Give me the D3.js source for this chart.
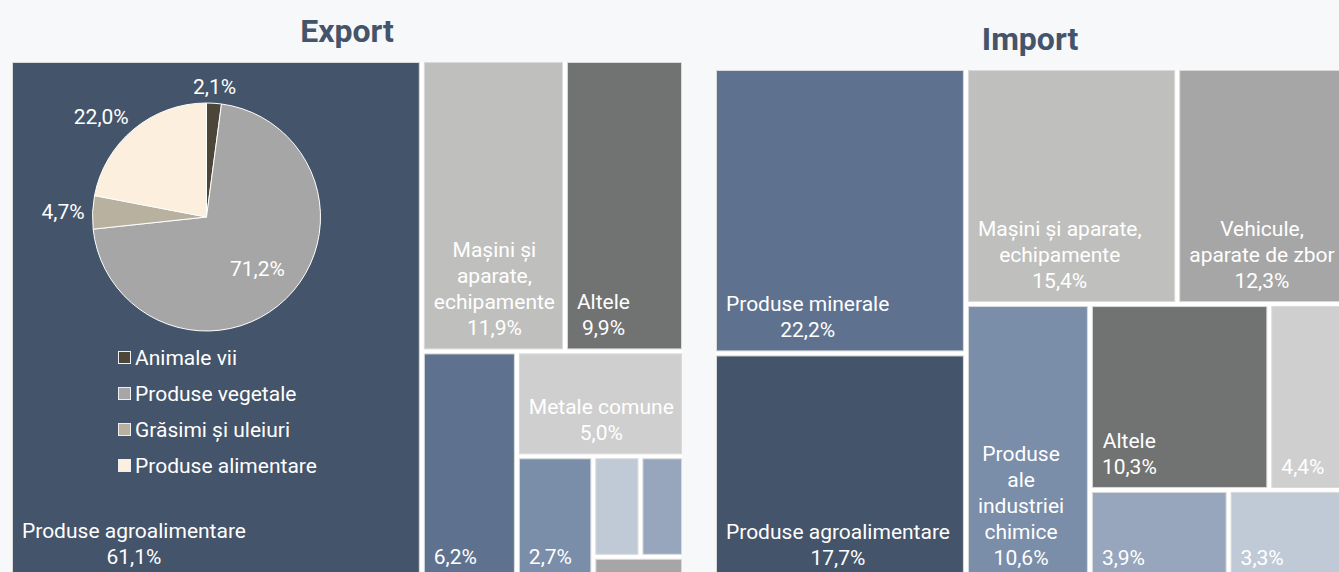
<!DOCTYPE html>
<html><head><meta charset="utf-8">
<script src="https://cdn.jsdelivr.net/npm/d3@7"></script>
<style>
html,body{margin:0;padding:0;background:#f7f8fa;overflow:hidden;}
svg{display:block;font-family:Roboto,"Noto Sans",sans-serif;}
</style></head><body>
<svg id="c" width="1339" height="572"></svg>
<script>
// ---------- DATA ----------
const exportCategories = ["Produse agroalimentare","Mașini și aparate, echipamente","Altele","Produse minerale","Metale comune","Produse ale industriei chimice","Materiale plastice","Materiale textile","Vehicule, aparate de zbor"];
const exportValues     = [61.1, 11.9, 9.9, 6.2, 5.0, 2.7, 1.35, 1.25, 0.6];
const exportGroups     = ["", "R/T", "R/T", "R/B", "R/B/B2", "R/B/B2/B3", "R/B/B2/B3/B4/B5", "R/B/B2/B3/B4/B5", "R/B/B2/B3/B4"];
const exportShowName   = [true, true, true, false, true, false, null, null, null];

const importCategories = ["Produse minerale","Produse agroalimentare","Mașini și aparate, echipamente","Vehicule, aparate de zbor","Produse ale industriei chimice","Altele","Metale comune","Materiale textile","Materiale plastice"];
const importValues     = [22.2, 17.7, 15.4, 12.3, 10.6, 10.3, 4.4, 3.9, 3.3];
const importGroups     = ["L", "L", "R/T", "R/T", "R/B", "R/B/B2/B3", "R/B/B2/B3", "R/B/B2/B4", "R/B/B2/B4"];
const importShowName   = [true, true, true, true, true, true, false, false, false];

const categoryColors = {
  "Produse agroalimentare":"#44546a",
  "Mașini și aparate, echipamente":"#bfc0be",
  "Altele":"#717372",
  "Produse minerale":"#5e7290",
  "Metale comune":"#cfcfcf",
  "Produse ale industriei chimice":"#7a8da9",
  "Materiale plastice":"#c0cad7",
  "Materiale textile":"#97a6bd",
  "Vehicule, aparate de zbor":"#a6a6a6"
};

const pieCategories = ["Animale vii","Produse vegetale","Grăsimi și uleiuri","Produse alimentare"];
const pieValues     = [2.1, 71.2, 4.7, 22.0];
const pieColors     = ["#4b4637","#a6a6a6","#b8b19f","#fcefdd"];

const titles = ["Export","Import"];

// ---------- HELPERS ----------
const loc = d3.formatLocale({decimal:",", thousands:".", grouping:[3], currency:["",""]});
const fmt = loc.format(".1f");
const pct = v => fmt(v) + "%";

const FONT = 21;
const ctx = document.createElement("canvas").getContext("2d");
ctx.font = FONT + "px Roboto";
const tw = s => ctx.measureText(s).width;

function wrap(text, maxW){
  const words = text.split(" ");
  const lines = [];
  let cur = "";
  words.forEach(w => {
    const t = cur ? cur + " " + w : w;
    if (cur && tw(t) > maxW) { lines.push(cur); cur = w; } else cur = t;
  });
  if (cur) lines.push(cur);
  return lines;
}

function buildTree(cats, vals, groups, show){
  const root = {name:"root", children:[]};
  cats.forEach((c,i) => {
    let node = root;
    if (groups[i]) groups[i].split("/").forEach(g => {
      let ch = node.children.find(n => n.name === g && n.children);
      if (!ch){ ch = {name:g, children:[]}; node.children.push(ch); }
      node = ch;
    });
    node.children.push({name:c, value:vals[i], show:show[i]});
  });
  return root;
}

const svg = d3.select("#c");

function drawTreemap(cats, vals, groups, show, box){
  const root = d3.hierarchy(buildTree(cats, vals, groups, show)).sum(d => d.value || 0);
  d3.treemap().tile(d3.treemapSliceDice).size([box.w, box.h]).paddingInner(4).round(false)(root);
  const g = svg.append("g").attr("transform", `translate(${box.x},${box.y})`);
  g.append("rect").attr("width", box.w).attr("height", box.h).attr("fill", "#ffffff");
  const leaves = root.leaves();
  g.selectAll("rect.cell").data(leaves).join("rect").attr("class","cell")
    .attr("x", d => d.x0 + 0.5).attr("y", d => d.y0 + 0.5)
    .attr("width", d => d.x1 - d.x0 - 1).attr("height", d => d.y1 - d.y0 - 1)
    .attr("fill", d => categoryColors[d.data.name])
    .attr("stroke", "#dadada").attr("stroke-width", 1);
  leaves.filter(d => d.data.show !== null).forEach(d => {
    const w = d.x1 - d.x0;
    const lines = d.data.show ? wrap(d.data.name, w - 18) : [];
    lines.push(pct(d.data.value));
    const bw = d3.max(lines, tw);
    const cx = d.x0 + 10 + bw / 2;
    const lastY = d.y1 - 14;
    const t = g.append("text").attr("text-anchor","middle").attr("fill","#ffffff")
      .attr("font-size", FONT);
    lines.forEach((ln, i) => {
      t.append("tspan").attr("x", cx).attr("y", lastY - (lines.length - 1 - i) * 26).text(ln);
    });
  });
  return g;
}

// ---------- TITLES ----------
svg.append("text").attr("x", 347).attr("y", 42).attr("text-anchor","middle")
  .attr("font-size", 32).attr("font-weight", 700).attr("fill", "#44546a").text(titles[0]);
svg.append("text").attr("x", 1030).attr("y", 50).attr("text-anchor","middle")
  .attr("font-size", 32).attr("font-weight", 700).attr("fill", "#44546a").text(titles[1]);

// ---------- TREEMAPS ----------
drawTreemap(exportCategories, exportValues, exportGroups, exportShowName, {x:12, y:62, w:670, h:516});
drawTreemap(importCategories, importValues, importGroups, importShowName, {x:716, y:70, w:628, h:509});

// ---------- PIE (inside export agro cell) ----------
const pcx = 206.5, pcy = 217, pr = 114;
const pie = d3.pie().sort(null).value(d => d.v);
const arcs = pie(pieCategories.map((c,i) => ({c, v:pieValues[i], col:pieColors[i]})));
const arc = d3.arc().innerRadius(0).outerRadius(pr);
const pg = svg.append("g").attr("transform", `translate(${pcx},${pcy})`);
pg.selectAll("path").data(arcs).join("path").attr("d", arc)
  .attr("fill", d => d.data.col).attr("stroke", "#ffffff").attr("stroke-width", 1);
arcs.forEach(a => {
  const m = (a.startAngle + a.endAngle) / 2;
  const s = Math.sin(m), c = Math.cos(m);
  let x, y, anchor;
  if (a.data.v > 50) { const R = pr * 0.64; x = R * s; y = -R * c; anchor = "middle"; }
  else { x = (pr + 8) * s; y = -(pr + 16) * c; anchor = Math.abs(s) < 0.3 ? "middle" : (s < 0 ? "end" : "start"); }
  pg.append("text").attr("x", x).attr("y", y + 7).attr("text-anchor", anchor)
    .attr("fill", "#ffffff").attr("font-size", FONT).text(pct(a.data.v));
});

// ---------- LEGEND ----------
const lg = svg.append("g").attr("transform", "translate(118,358)");
const items = lg.selectAll("g").data(pieCategories).join("g")
  .attr("transform", (d,i) => `translate(0,${i * 36})`);
items.append("rect").attr("x", 0.5).attr("y", -6.5).attr("width", 12).attr("height", 12)
  .attr("fill", (d,i) => pieColors[i]).attr("stroke", "#eeeeee").attr("stroke-width", 1);
items.append("text").attr("x", 17).attr("y", 7).attr("fill", "#ffffff")
  .attr("font-size", FONT).text(d => d);
</script>
</body></html>
